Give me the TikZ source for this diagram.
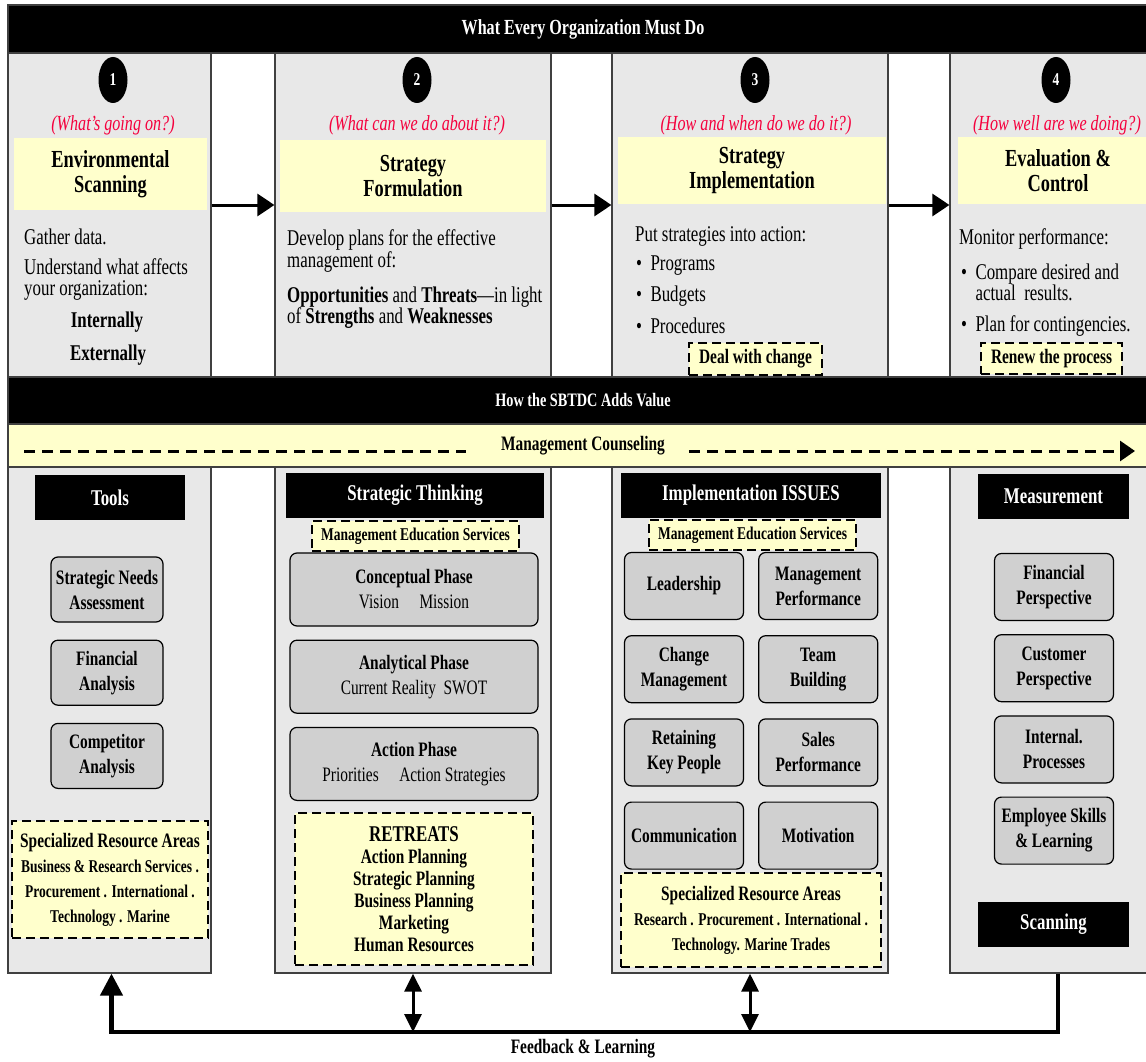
\documentclass[tikz,border=0pt]{standalone}
\usepackage{fontspec}
\setmainfont{Liberation Serif}[FakeStretch=0.75]
\usetikzlibrary{positioning, shapes.geometric, arrows.meta}

\definecolor{panelgray}{HTML}{E8E8E8}
\definecolor{boxgray}{HTML}{D0D0D0}
\definecolor{noteyellow}{HTML}{FFFFCC}
\definecolor{askred}{HTML}{F5003D}

\newcommand{\setfs}[2]{\fontsize{#1}{#2}\selectfont}

\begin{document}
\begin{tikzpicture}[
    x=1pt, y=-1pt,
    node distance=14pt,
    panel/.style={rectangle, draw=black!75, line width=1.2pt, fill=panelgray, inner sep=0pt},
    bar/.style={rectangle, draw=black!75, line width=1.2pt, fill=black, text=white, inner sep=0pt, font=\bfseries\setfs{21.5}{23}},
    band/.style={rectangle, draw=black!75, line width=1.2pt, fill=noteyellow, inner sep=0pt},
    number/.style={ellipse, fill=black, text=white, minimum width=29pt, minimum height=46pt, inner sep=0pt, font=\bfseries\setfs{18}{18}},
    question/.style={text=askred, inner sep=0pt, font=\itshape\setfs{21.5}{23}},
    stage/.style={rectangle, fill=noteyellow, align=center, inner sep=0pt, font=\bfseries\setfs{24.5}{25}},
    body/.style={align=left, inner sep=0pt, font=\setfs{22.5}{21}},
    header/.style={rectangle, fill=black, text=white, minimum height=45pt, inner sep=0pt, font=\bfseries\setfs{22.5}{23}},
    tool/.style={rectangle, draw, line width=1.2pt, rounded corners=7pt, fill=boxgray, align=center, inner sep=0pt, minimum width=119pt, minimum height=67pt, font=\bfseries\setfs{20.5}{25}},
    note/.style={rectangle, draw, dash pattern=on 9pt off 5pt, line width=1.5pt, fill=noteyellow, align=center, inner sep=0pt, font=\bfseries\setfs{18}{25}},
    flow/.style={line width=3pt, -{Triangle[length=17pt, width=22pt]}},
    counselline/.style={line width=3pt, dash pattern=on 11pt off 7pt},
    feedback/.style={line width=4.5pt},
    twoway/.style={line width=3pt, {Triangle[length=18pt, width=17pt]}-{Triangle[length=18pt, width=17pt]}},
]

\useasboundingbox (0,0) rectangle (1146,1062);
\fill [white] (0,0) rectangle (1146,1062);

% Panels
\node [panel, minimum width=203pt, minimum height=324pt] (scan) at (109.5,215) {};
\node [panel, minimum width=276pt, minimum height=324pt] (form) at (413,215) {};
\node [panel, minimum width=276pt, minimum height=324pt] (impl) at (750,215) {};
\node [panel, minimum width=208pt, minimum height=324pt] (eval) at (1054,215) {};

\node [panel, minimum width=203pt, minimum height=506pt] (toolspanel) at (109.5,720) {};
\node [panel, minimum width=276pt, minimum height=506pt] (thinkpanel) at (413,720) {};
\node [panel, minimum width=276pt, minimum height=506pt] (issuepanel) at (750,720) {};
\node [panel, minimum width=208pt, minimum height=506pt] (measurepanel) at (1054,720) {};

% Bars
\node [bar, minimum width=1150pt, minimum height=48pt] (mustdo) at (583,29) {What Every Organization Must Do};
\node [bar, minimum width=1150pt, minimum height=47pt, font=\bfseries\setfs{19}{20}] (value) at (583,400.5) {How the SBTDC Adds Value};
\node [band, minimum width=1150pt, minimum height=43pt] (counsel) at (583,445.5) {};
\node [inner sep=0pt, font=\bfseries\setfs{20.5}{21}] (mc) at (583,446) {Management Counseling};

% Stages
\node [number] (n1) at (113,80) {1};
\node [number] (n2) at (417,80) {2};
\node [number] (n3) at (755,80) {3};
\node [number] (n4) at (1056,80) {4};

\node [question] (q1) at (113,125) {(What's going on?)};
\node [question] (q2) at (417,125) {(What can we do about it?)};
\node [question] (q3) at (756,125) {(How and when do we do it?)};
\node [question] (q4) at (1057,125) {(How well are we doing?)};

\node [stage, minimum width=193pt, minimum height=72pt] (s1) at (110.5,174) {Environmental\\Scanning};
\node [stage, minimum width=266pt, minimum height=72pt] (s2) at (413,176) {Strategy\\Formulation};
\node [stage, minimum width=268pt, minimum height=67pt] (s3) at (752,170.5) {Strategy\\Implementation};
\node [stage, minimum width=200pt, minimum height=67pt] (s4) at (1058,170.5) {Evaluation \&\\Control};

% Upper texts
\node [body, anchor=west] (gather) at (24,237) {Gather data.};
\node [body, anchor=west] (affects) at (24,280) {Understand what affects\\your organization:};
\node [body, font=\bfseries\setfs{22.5}{21}] (inside) at (107,322) {Internally};
\node [body, font=\bfseries\setfs{22.5}{21}] (outside) at (108,355) {Externally};

\node [body, anchor=west, font=\setfs{22.5}{22}] (develop) at (287,251) {Develop plans for the effective\\management of:};
\node [body, anchor=west] (swot) at (287,308) {\textbf{Opportunities} and \textbf{Threats}---in light\\of \textbf{Strengths} and \textbf{Weaknesses}};

\node [body, anchor=west] (putaction) at (635,236) {Put strategies into action:};
\node [body, anchor=west] (programs) at (636,266) {\textbullet\ \ Programs};
\node [body, anchor=west] (budgets) at (636,296) {\textbullet\ \ Budgets};
\node [body, anchor=west] (procedures) at (636,326) {\textbullet\ \ Procedures};
\node [note, font=\bfseries\setfs{20.5}{21}, minimum width=133pt, minimum height=32pt] (dealchange) at (755.5,359) {Deal with change};

\node [body, anchor=west] (monitor) at (959,239) {Monitor performance:};
\node [body, anchor=west] (compare) at (961,282) {\textbullet\ \ Compare desired and\\\phantom{\textbullet\ \ }actual\ \ results.};
\node [body, anchor=west] (contingency) at (961,326) {\textbullet\ \ Plan for contingencies.};
\node [note, font=\bfseries\setfs{20.5}{21}, minimum width=141pt, minimum height=31pt] (renew) at (1051.5,358.5) {Renew the process};

% Headers
\node [header, minimum width=150pt] (tools) at (110,497.5) {Tools};
\node [header, minimum width=258pt] (thinking) at (415,495.5) {Strategic Thinking};
\node [header, minimum width=260pt] (issues) at (751,495.5) {Implementation ISSUES};
\node [header, minimum width=151pt] (measure) at (1053.5,496.5) {Measurement};
\node [header, minimum width=151pt] (scanning) at (1053.5,924.5) {Scanning};

\node [note, minimum width=207pt, minimum height=30pt] (mes1) at (415.5,536) {Management Education Services};
\node [note, minimum width=207pt, minimum height=30pt] (mes2) at (752.5,535) {Management Education Services};

% Tools
\node [tool, minimum width=112pt, minimum height=65pt] (needs) at (107,589.5) {Strategic Needs\\Assessment};
\node [tool, minimum width=112pt, minimum height=65pt, below=17pt of needs] (finance) {Financial\\Analysis};
\node [tool, minimum width=112pt, minimum height=65pt, below=17pt of finance] (rivals) {Competitor\\Analysis};
\node [note, minimum width=196pt, minimum height=117pt] (areas1) at (110,879.5) {{\setfs{20.5}{25}Specialized Resource Areas}\\Business \& Research Services .\\Procurement . International .\\Technology . Marine};

% Strategic thinking
\node [tool, minimum width=248pt, minimum height=73pt, font=\setfs{20.5}{25}] (concept) at (414,589.5) {\textbf{Conceptual Phase}\\Vision\quad Mission};
\node [tool, minimum width=248pt, minimum height=73pt, font=\setfs{20.5}{25}, below=13pt of concept] (analysis) {\textbf{Analytical Phase}\\Current Reality\ \ SWOT};
\node [tool, minimum width=248pt, minimum height=73pt, font=\setfs{20.5}{25}, below=13pt of analysis] (actionphase) {\textbf{Action Phase}\\Priorities\quad Action Strategies};
\node [note, minimum width=238pt, minimum height=152pt, font=\bfseries\setfs{20.5}{22}] (retreats) at (414,889) {{\setfs{22.5}{22}RETREATS}\\Action Planning\\Strategic Planning\\Business Planning\\Marketing\\Human Resources};

% Implementation issues
\node [tool] (lead) at (684,586) {Leadership};
\node [tool, right=14pt of lead] (perform) {Management\\Performance};
\node [tool, below=15pt of lead] (changemgmt) {Change\\Management};
\node [tool, below=15pt of perform] (team) {Team\\Building};
\node [tool, below=15pt of changemgmt] (retain) {Retaining\\Key People};
\node [tool, below=15pt of team] (sales) {Sales\\Performance};
\node [tool, below=15pt of retain] (comms) {Communication};
\node [tool, below=15pt of sales] (motivate) {Motivation};
\node [note, minimum width=260pt, minimum height=94pt] (areas2) at (751,920) {{\setfs{20.5}{25}Specialized Resource Areas}\\Research . Procurement . International .\\Technology. Marine Trades};

% Measurement
\node [tool] (finpersp) at (1054,587) {Financial\\Perspective};
\node [tool, below=13pt of finpersp] (custpersp) {Customer\\Perspective};
\node [tool, below=13pt of custpersp] (internal) {Internal.\\Processes};
\node [tool, below=13pt of internal] (skills) {Employee Skills\\\& Learning};

% Lines
\coordinate (mcstart) at (24,451);
\coordinate (mcend) at (1135,451);
\coordinate (fb) at (583,1032);
\draw [flow] ([yshift=10pt]scan.east) -- ([yshift=10pt]form.west);
\draw [flow] ([yshift=10pt]form.east) -- ([yshift=10pt]impl.west);
\draw [flow] ([yshift=10pt]impl.east) -- ([yshift=10pt]eval.west);
\draw [counselline] (mcstart) -- ([xshift=-35pt]mc.west |- mcstart);
\draw [counselline, -{Triangle[length=15pt, width=20pt]}] ([xshift=24pt]mc.east |- mcend) -- (mcend);
\draw [feedback, -{Triangle[length=22pt, width=22pt]}] ([xshift=4pt]measurepanel.south) |- (fb) -| ([xshift=2pt]toolspanel.south);
\draw [twoway] (thinkpanel.south) -- (thinkpanel.south |- fb);
\draw [twoway] (issuepanel.south) -- (issuepanel.south |- fb);
\node [inner sep=0pt, font=\bfseries\setfs{20.5}{21}] (learning) at (583,1049) {Feedback \& Learning};

\end{tikzpicture}
\end{document}
